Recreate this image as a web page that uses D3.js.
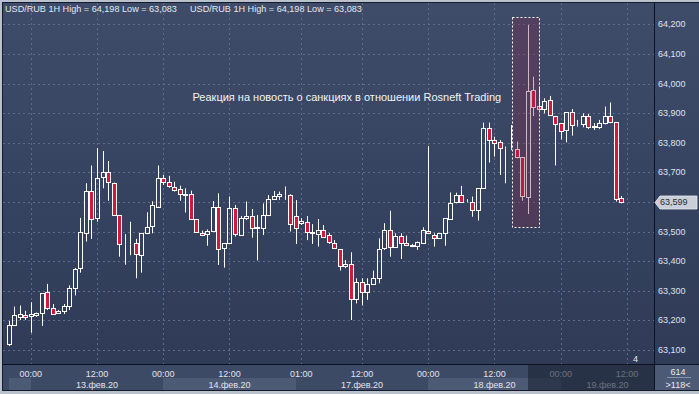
<!DOCTYPE html>
<html><head><meta charset="utf-8">
<script src="https://cdn.jsdelivr.net/npm/d3@7"></script>
<style>
html,body{margin:0;padding:0;background:#b9c1cd;overflow:hidden}
svg{display:block}
text{font-family:"Liberation Sans",Arial,sans-serif}
</style>
</head><body>
<svg id="c" width="699" height="394"></svg>
<script>
// ---- DATA (USD/RUB, 1H candles, 12.02.20 20:00 .. 19.02.20 11:00) ----
const openP  = [63.120,63.184,63.212,63.219,63.214,63.218,63.224,63.295,63.241,63.224,63.232,63.248,63.308,63.376,63.494,63.637,63.545,63.683,63.700,63.663,63.555,63.457,63.457,63.460,63.420,63.494,63.520,63.584,63.682,63.666,63.652,63.643,63.622,63.626,63.541,63.495,63.492,63.503,63.584,63.443,63.460,63.578,63.488,63.545,63.552,63.512,63.511,63.556,63.609,63.620,63.624,63.624,63.552,63.530,63.531,63.497,63.492,63.505,63.487,63.460,63.441,63.384,63.389,63.271,63.328,63.295,63.322,63.342,63.443,63.505,63.449,63.486,63.460,63.452,63.451,63.462,63.502,63.488,63.477,63.494,63.542,63.598,63.623,63.602,63.601,63.573,63.646,63.849,63.809,63.801,63.781,63.782,63.778,63.751,63.616,63.978,63.925,63.913,63.944,63.890,63.866,63.843,63.903,63.860,63.863,63.891,63.854,63.854,63.866,63.891,63.869,63.612];
const highP  = [63.198,63.246,63.250,63.232,63.261,63.226,63.292,63.323,63.255,63.235,63.255,63.318,63.377,63.546,63.663,63.723,63.782,63.772,63.738,63.665,63.556,63.491,63.533,63.475,63.495,63.565,63.602,63.723,63.691,63.688,63.668,63.655,63.646,63.638,63.541,63.503,63.507,63.603,63.629,63.460,63.618,63.590,63.552,63.601,63.576,63.556,63.595,63.623,63.637,63.635,63.652,63.626,63.606,63.545,63.552,63.525,63.542,63.522,63.494,63.471,63.441,63.404,63.430,63.342,63.342,63.342,63.368,63.477,63.528,63.570,63.494,63.494,63.486,63.458,63.466,63.514,63.789,63.494,63.494,63.545,63.632,63.631,63.654,63.609,63.618,63.646,63.868,63.868,63.820,63.809,63.787,63.860,63.804,63.751,64.198,64.023,63.984,63.950,63.958,63.890,63.866,63.903,63.914,63.877,63.899,63.897,63.866,63.877,63.922,63.936,63.869,63.620];
const lowP   = [63.113,63.182,63.201,63.201,63.158,63.212,63.181,63.235,63.220,63.221,63.221,63.235,63.284,63.361,63.466,63.475,63.533,63.646,63.604,63.553,63.415,63.388,63.420,63.342,63.361,63.491,63.494,63.584,63.657,63.648,63.635,63.604,63.564,63.541,63.497,63.486,63.452,63.500,63.387,63.378,63.460,63.483,63.486,63.539,63.479,63.402,63.488,63.552,63.607,63.607,63.607,63.500,63.458,63.522,63.471,63.458,63.449,63.480,63.458,63.443,63.368,63.376,63.201,63.257,63.250,63.269,63.319,63.325,63.438,63.415,63.447,63.407,63.451,63.447,63.438,63.460,63.494,63.449,63.475,63.452,63.539,63.595,63.598,63.598,63.550,63.537,63.646,63.733,63.753,63.691,63.663,63.775,63.747,63.604,63.559,63.890,63.914,63.899,63.890,63.723,63.811,63.801,63.824,63.854,63.852,63.846,63.843,63.846,63.862,63.866,63.601,63.595];
const closeP = [63.184,63.218,63.220,63.210,63.221,63.224,63.291,63.241,63.221,63.232,63.248,63.308,63.372,63.497,63.637,63.542,63.680,63.700,63.666,63.555,63.457,63.458,63.459,63.423,63.494,63.516,63.589,63.682,63.666,63.654,63.640,63.626,63.626,63.541,63.497,63.487,63.503,63.584,63.441,63.460,63.578,63.492,63.545,63.552,63.511,63.514,63.556,63.610,63.620,63.627,63.625,63.524,63.511,63.536,63.497,63.496,63.505,63.483,63.464,63.443,63.384,63.390,63.271,63.328,63.295,63.323,63.342,63.441,63.505,63.447,63.486,63.460,63.453,63.453,63.464,63.505,63.495,63.477,63.494,63.545,63.595,63.623,63.601,63.604,63.573,63.646,63.849,63.809,63.798,63.781,63.782,63.781,63.751,63.620,63.973,63.922,63.914,63.942,63.894,63.863,63.841,63.903,63.860,63.861,63.891,63.854,63.855,63.866,63.891,63.869,63.610,63.599];

const priceTicks = [64.2,64.1,64.0,63.9,63.8,63.7,63.6,63.5,63.4,63.3,63.2,63.1];
const timeTickIdx = [4,16,28,40,53,64,76,88,100,112];
const timeTickLabels = ["00:00","12:00","00:00","12:00","01:00","12:00","00:00","12:00","00:00","12:00"];
const dayStartIdx = [0,4,28,52,76,100];
const dayLabels = [null,"13.фев.20","14.фев.20","17.фев.20","18.фев.20","19.фев.20"];
const headerText = "USD/RUB 1H High = 64,198 Low = 63,083";
const annotationText = "Реакция на новость о санкциях в отношении Rosneft Trading";
const annotationAt = [33.3, 63.941];          // [candle index, price]
const highlightIdx = [91.1, 96.1];            // candle index range
const highlightPrice = [63.516, 64.224];      // price range
const lastPrice = 63.599;
const dimFromIdx = 94;
const cornerTop = "614", cornerBottom = ">118<", markerLabel = "4";

// ---- LAYOUT ----
const svg = d3.select('#c');
const P = {l:3, r:654, t:3, b:364};
const x = d3.scaleLinear().domain([0,111]).range([8.7,621.4]);
const y = d3.scaleLinear().domain([63.1,64.2]).range([349.9,24.3]);
const fmt = v => v.toFixed(3).replace('.', ',');
const RED = '#d4173d';

const defs = svg.append('defs');
const grad = defs.append('linearGradient').attr('id','bg').attr('x1',0).attr('y1',0).attr('x2',0).attr('y2',1);
grad.append('stop').attr('offset',0).attr('stop-color','#3e4c6a');
grad.append('stop').attr('offset',1).attr('stop-color','#2f3b57');
defs.append('clipPath').attr('id','pc').append('rect').attr('x',P.l).attr('y',P.t).attr('width',P.r-P.l).attr('height',P.b-P.t);

// frame
svg.append('rect').attr('width',699).attr('height',394).attr('fill','#b9c1cd');
svg.append('rect').attr('x',2).attr('y',2).attr('width',697).attr('height',389).attr('fill','#141b2b');
svg.append('rect').attr('x',P.l).attr('y',P.t).attr('width',P.r-P.l).attr('height',P.b-P.t).attr('fill','url(#bg)');
svg.append('rect').attr('x',P.r+1).attr('y',P.t).attr('width',699-P.r-1).attr('height',P.b-P.t).attr('fill','url(#bg)');
// bottom axis backgrounds
svg.append('rect').attr('x',P.l).attr('y',P.b+1).attr('width',P.r-P.l).attr('height',390-P.b-1).attr('fill','#3d4a65');
svg.append('rect').attr('x',P.r+1).attr('y',P.b+1).attr('width',699-P.r-1).attr('height',390-P.b-1).attr('fill','#4c5a76');

// grid
const grid = svg.append('g').attr('clip-path','url(#pc)').attr('stroke','#5d6c8a').attr('stroke-dasharray','2,3').attr('stroke-width',1);
grid.selectAll('line.h').data(priceTicks).join('line')
  .attr('x1',P.l).attr('x2',P.r).attr('y1',d=>Math.round(y(d))+0.5).attr('y2',d=>Math.round(y(d))+0.5);
grid.selectAll('line.v').data(timeTickIdx).join('line')
  .attr('y1',P.t).attr('y2',P.b).attr('x1',d=>Math.round(x(d))+0.5).attr('x2',d=>Math.round(x(d))+0.5);

// header
const hdr = svg.append('g').attr('fill','#e4e8ef').attr('font-size',9.3);
const h1 = hdr.append('text').attr('x',5).attr('y',12).text(headerText);
const hw = h1.node().getComputedTextLength();
h1.attr('font-size', 9.3*172/hw);
hdr.append('text').attr('x',190).attr('y',12).attr('font-size',9.3*172/hw).text(headerText);

// candles
const idx = d3.range(openP.length);
const cg = svg.append('g').attr('clip-path','url(#pc)');
const cx = i => Math.round(x(i));
const bTop = i => Math.round(y(Math.max(openP[i],closeP[i])));
const bBot = i => Math.round(y(Math.min(openP[i],closeP[i])));
cg.selectAll('line.wu').data(idx).join('line')
  .attr('x1',i=>cx(i)+0.5).attr('x2',i=>cx(i)+0.5)
  .attr('y1',i=>y(highP[i])).attr('y2',i=>bTop(i)+0.5).attr('stroke','#fff');
cg.selectAll('line.wd').data(idx).join('line')
  .attr('x1',i=>cx(i)+0.5).attr('x2',i=>cx(i)+0.5)
  .attr('y1',i=>bBot(i)+0.5).attr('y2',i=>y(lowP[i])).attr('stroke','#fff');
cg.selectAll('rect.b').data(idx).join('rect')
  .attr('x',i=>cx(i)-1.5).attr('width',4)
  .attr('y',i=>bTop(i)+0.5).attr('height',i=>Math.max(0,bBot(i)-bTop(i)))
  .attr('fill',i=>closeP[i]<openP[i]?RED:'none')
  .attr('stroke','#fff').attr('stroke-width',1);

// highlight box
const bx0 = Math.round(x(highlightIdx[0]))+0.5, bx1 = Math.round(x(highlightIdx[1]))+0.5;
const by0 = Math.round(y(highlightPrice[1]))+0.5, by1 = Math.round(y(highlightPrice[0]))+0.5;
svg.append('rect').attr('x',bx0).attr('y',by0).attr('width',bx1-bx0).attr('height',by1-by0)
  .attr('fill','rgba(125,45,80,0.35)').attr('stroke','#ffffff').attr('stroke-dasharray','2,2');

// annotation
const ann = svg.append('text').attr('x',x(annotationAt[0])).attr('y',y(annotationAt[1]))
  .attr('fill','#f2f4f8').attr('font-size',11).text(annotationText);
const aw = ann.node().getComputedTextLength();
ann.attr('font-size', 11*309/aw);

// marker label
svg.append('text').attr('x',633).attr('y',362).attr('fill','#e8ecf2').attr('font-size',9).text(markerLabel);

// separators
svg.append('line').attr('x1',P.r+0.5).attr('x2',P.r+0.5).attr('y1',P.t).attr('y2',390).attr('stroke','#0d1220');
svg.append('line').attr('x1',P.l).attr('x2',699).attr('y1',P.b+0.5).attr('y2',P.b+0.5).attr('stroke','#0d1220');

// right axis labels
const tagY = y(lastPrice);
const ax = svg.append('g').attr('fill','#dfe4ec').attr('font-size',9);
ax.selectAll('text').data(priceTicks.filter(p=>Math.abs(y(p)-tagY)>9)).join('text')
  .attr('x',658).attr('y',d=>y(d)).attr('dy','0.35em').text(fmt);
// last price tag
const ty = Math.round(tagY)+0.5;
svg.append('path').attr('d',`M${P.r+1},${ty} L${P.r+6},${ty-6.5} L697,${ty-6.5} L697,${ty+6.5} L${P.r+6},${ty+6.5} Z`)
  .attr('fill','#c9ced7').attr('stroke','#e8ebf0').attr('stroke-width',0.8);
svg.append('text').attr('x',660).attr('y',tagY).attr('dy','0.35em').attr('font-size',9).attr('fill','#2a2d33').text(fmt(lastPrice));

// bottom axis: day bands
const dayEnds = dayStartIdx.map((s,k)=> k<dayStartIdx.length-1 ? x(dayStartIdx[k+1]) : P.r);
const bands = svg.append('g');
dayStartIdx.forEach((s,k)=>{
  const a = Math.round(x(s)), b = Math.round(dayEnds[k]);
  bands.append('rect').attr('x',a).attr('y',378).attr('width',b-a).attr('height',12)
    .attr('fill', k%2===0 ? '#4d5a75' : '#3d4a65');
  if (dayLabels[k]) bands.append('text').attr('x',(a+b)/2).attr('y',388).attr('text-anchor','middle')
    .attr('font-size',9).attr('fill','#e0e4ec').text(dayLabels[k]);
});
svg.append('g').selectAll('text').data(timeTickIdx).join('text')
  .attr('x',d=>x(d)).attr('y',376.5).attr('text-anchor','middle').attr('font-size',9).attr('fill','#e0e4ec')
  .text((d,k)=>timeTickLabels[k]);
// dimmed region
const dx0 = Math.round(x(dimFromIdx));
svg.append('rect').attr('x',dx0).attr('y',P.b+1).attr('width',P.r-dx0).attr('height',390-P.b-1).attr('fill','rgba(28,36,54,0.62)');

// corner box
svg.append('text').attr('x',678).attr('y',375).attr('text-anchor','middle').attr('font-size',9).attr('fill','#e6e9ef').text(cornerTop);
svg.append('line').attr('x1',667).attr('x2',691).attr('y1',377.5).attr('y2',377.5).attr('stroke','#8592aa');
svg.append('text').attr('x',678).attr('y',387.5).attr('text-anchor','middle').attr('font-size',9).attr('fill','#e6e9ef').text(cornerBottom);
</script>
</body></html>
